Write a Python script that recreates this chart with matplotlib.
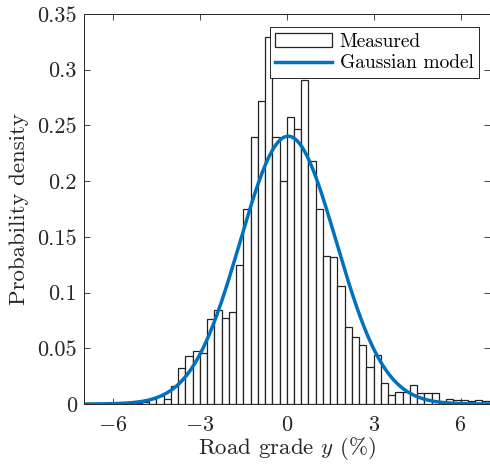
import matplotlib
matplotlib.use('Agg')
import matplotlib.pyplot as plt
import numpy as np

# histogram of measured road grade, bins of 0.25 % from -7 to 7
bin_edges = np.arange(-7, 7.001, 0.25)
density = [0, 0, 0, 0, 0, 0, 0, 0.001,
           0.002, 0.0045, 0.0075, 0.0045, 0.016, 0.0324, 0.043, 0.048,
           0.046, 0.0765, 0.084, 0.077, 0.0825, 0.125, 0.175, 0.240,
           0.272, 0.329, 0.240, 0.200, 0.258, 0.247, 0.291, 0.218,
           0.175, 0.133, 0.132, 0.1055, 0.069, 0.060, 0.053, 0.0335,
           0.0443, 0.0187, 0.008, 0.0112, 0.0112, 0.0173, 0.0098, 0.0096,
           0.0096, 0.0015, 0.0046, 0.0036, 0.0036, 0.0024, 0.0036, 0.0024]

# fitted gaussian model
mu = 0.05
sigma = 1.66

xticks = [-6, -3, 0, 3, 6]
yticks = [0, 0.05, 0.1, 0.15, 0.2, 0.25, 0.3, 0.35]
ytick_labels = ['0', '0.05', '0.1', '0.15', '0.2', '0.25', '0.3', '0.35']

plt.rcParams['font.family'] = 'serif'
plt.rcParams['font.serif'] = ['cmr10']
plt.rcParams['mathtext.fontset'] = 'cm'
plt.rcParams['axes.formatter.use_mathtext'] = True

axcol = '#262626'
fig = plt.figure(figsize=(4.9, 4.66), dpi=100)
ax = fig.add_axes([0.1714, 0.133, 0.8276, 0.837])

bars = ax.bar(bin_edges[:-1], density, width=0.25, align='edge',
              facecolor='white', edgecolor='#222222', linewidth=0.9)

xs = np.linspace(-7, 7, 600)
pdf = np.exp(-(xs - mu) ** 2 / (2 * sigma ** 2)) / (sigma * np.sqrt(2 * np.pi))
line, = ax.plot(xs, pdf, color='#0072BD', linewidth=2.5)

ax.set_xlim(-7, 7)
ax.set_ylim(0, 0.35)
ax.set_xticks(xticks)
ax.set_xticklabels(['$-6$', '$-3$', '$0$', '$3$', '$6$'])
ax.set_yticks(yticks)
ax.set_yticklabels(ytick_labels)
ax.tick_params(direction='in', length=4, width=0.6, colors=axcol,
               labelsize=16, top=True, right=True, pad=5)
ax.tick_params(axis='x', pad=8)
for s in ax.spines.values():
    s.set_color(axcol)
    s.set_linewidth(0.7)

ax.set_xlabel('Road grade $y$ (%)', fontsize=16.5, color=axcol, labelpad=0)
ax.set_ylabel('Probability density', fontsize=16.5, color=axcol, labelpad=6)

leg = ax.legend([bars, line], ['Measured', 'Gaussian model'],
                loc='upper right', bbox_to_anchor=(0.975, 0.967), fontsize=14,
                frameon=True, fancybox=False, framealpha=1, edgecolor=axcol,
                handlelength=2.9, handletextpad=0.4, borderpad=0.3,
                labelspacing=0.2, borderaxespad=0)
leg.get_frame().set_linewidth(0.7)

plt.savefig('out.png', dpi=100)
